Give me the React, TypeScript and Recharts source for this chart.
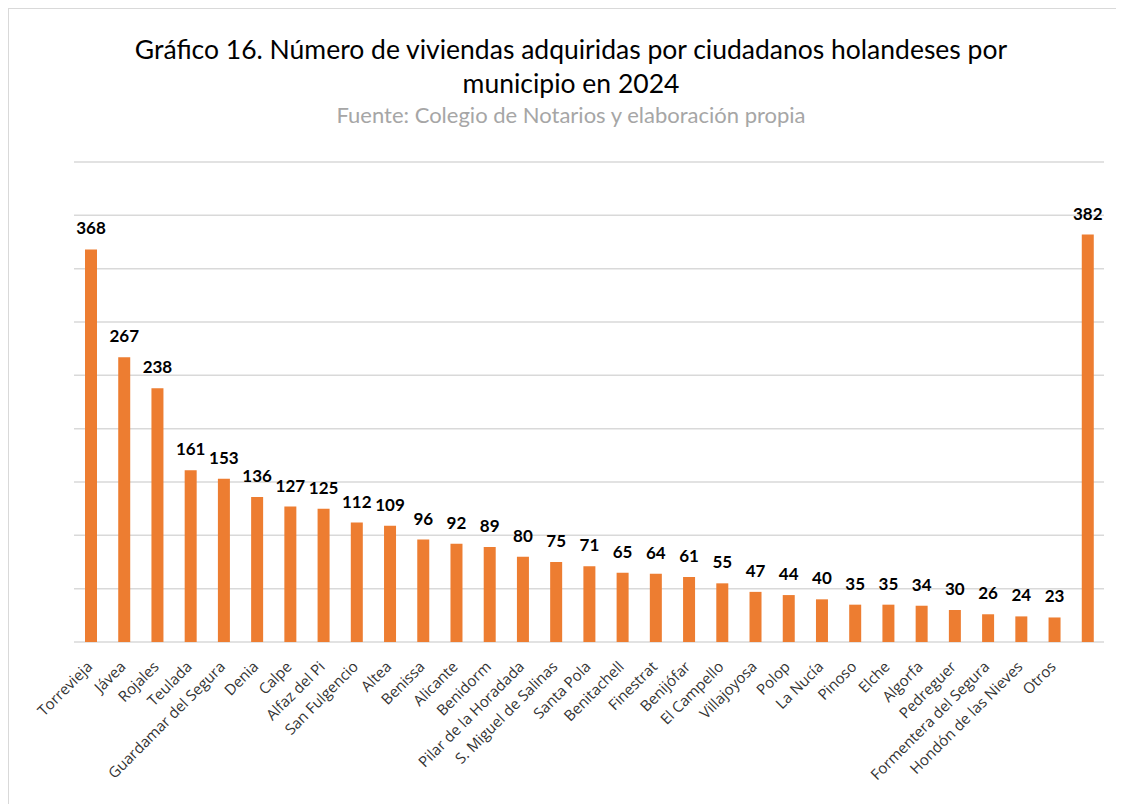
import React from "react";
import { BarChart, Bar, XAxis, YAxis, CartesianGrid, LabelList } from "recharts";

const municipios = [
  "Torrevieja", "Jávea", "Rojales", "Teulada", "Guardamar del Segura", "Denia", "Calpe",
  "Alfaz del Pi", "San Fulgencio", "Altea", "Benissa", "Alicante", "Benidorm",
  "Pilar de la Horadada", "S. Miguel de Salinas", "Santa Pola", "Benitachell", "Finestrat",
  "Benijófar", "El Campello", "Villajoyosa", "Polop", "La Nucía", "Pinoso", "Elche",
  "Algorfa", "Pedreguer", "Formentera del Segura", "Hondón de las Nieves", "Otros",
];
const viviendas = [
  368, 267, 238, 161, 153, 136, 127, 125, 112, 109, 96, 92, 89, 80, 75, 71, 65, 64, 61, 55,
  47, 44, 40, 35, 35, 34, 30, 26, 24, 23,
];
// last bar in the original has no category label
const unlabeledValue = 382;
const yTicks = [0, 50, 100, 150, 200, 250, 300, 350, 400, 450];

const titleLine1 = "Gráfico 16. Número de viviendas adquiridas por ciudadanos holandeses por";
const titleLine2 = "municipio en 2024";
const subtitle = "Fuente: Colegio de Notarios y elaboración propia";

const categories = [...municipios, " "];
const values = [...viviendas, unlabeledValue];

const data = categories.map((name, i) => ({ name, value: values[i] }));

const TITLE_FONT = "Lato, 'Open Sans', sans-serif";
const TICK_FONT = "'Open Sans', Lato, sans-serif";

const Tick = (props: any) => {
  const { x, y, payload } = props;
  return (
    <text
      transform={`translate(${x - 1},${y + 14}) rotate(-45)`}
      textAnchor="end"
      dy="0.35em"
      fontFamily={TICK_FONT}
      fontSize={15}
      fill="#333333"
    >
      {payload.value}
    </text>
  );
};

export default function App() {
  return (
    <div
      style={{
        position: "relative",
        width: 1116,
        height: 796,
        borderTop: "1px solid #d9d9d9",
        borderLeft: "1px solid #d9d9d9",
        boxSizing: "border-box",
        background: "#fff",
        fontFamily: TITLE_FONT,
      }}
    >
      <div
        style={{
          position: "absolute",
          left: -1,
          top: 23,
          width: 1116,
          textAlign: "center",
          fontSize: 26.5,
          lineHeight: "34px",
          color: "#000",
          marginLeft: 5,
        }}
      >
        <div>{titleLine1}</div>
        <div>{titleLine2}</div>
      </div>
      <div
        style={{
          position: "absolute",
          left: -1,
          top: 92,
          width: 1116,
          textAlign: "center",
          fontSize: 22,
          color: "#a6a6a6",
          marginLeft: 5,
        }}
      >
        {subtitle}
      </div>
      <div style={{ position: "absolute", left: -1, top: -1 }}>
        <BarChart
          width={1116}
          height={796}
          data={data}
          margin={{ top: 154, right: 20, left: 66, bottom: 0 }}
          barSize={12}
        >
          <CartesianGrid vertical={false} stroke="#d9d9d9" strokeWidth={1.5} />
          <YAxis hide domain={[0, 450]} ticks={yTicks} />
          <XAxis
            dataKey="name"
            height={162}
            interval={0}
            axisLine={false}
            tickLine={false}
            tick={<Tick />}
          />
          <Bar dataKey="value" fill="#ED7D31" isAnimationActive={false}>
            <LabelList
              dataKey="value"
              position="top"
              offset={15}
              fontFamily={TITLE_FONT}
              fontWeight={700}
              fontSize={17}
              fill="#000"
            />
          </Bar>
        </BarChart>
      </div>
    </div>
  );
}
